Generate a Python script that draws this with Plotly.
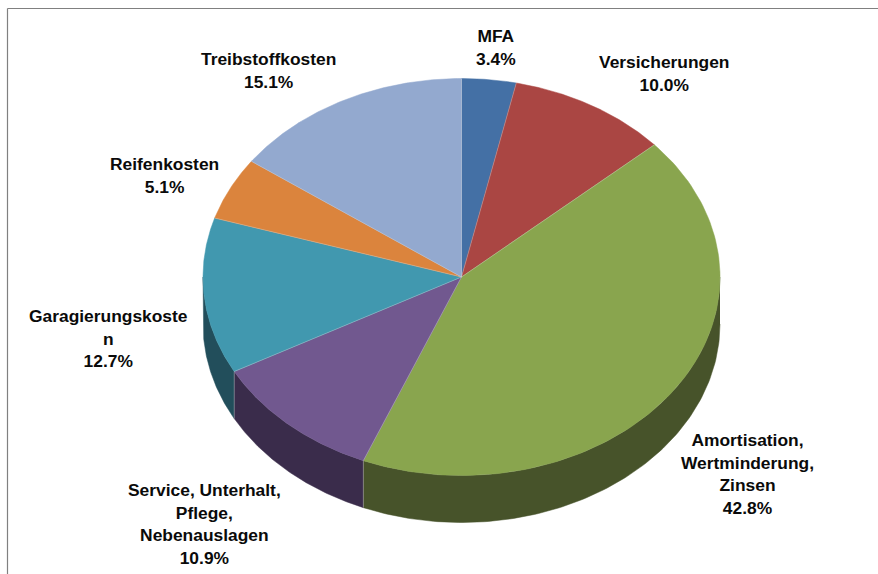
import numpy as np
import plotly.graph_objects as go

labels = ["MFA", "Versicherungen", "Amortisation,<br>Wertminderung,<br>Zinsen",
          "Service, Unterhalt,<br>Pflege,<br>Nebenauslagen", "Garagierungskoste<br>n",
          "Reifenkosten", "Treibstoffkosten"]
values = [3.4, 10.0, 42.8, 10.9, 12.7, 5.1, 15.1]
top_colors = ["#4470A5", "#AA4643", "#89A54E", "#71588F", "#4198AF", "#DB843D", "#93A9CF"]
side_colors = ["#223B57", "#5A2523", "#47532A", "#3A2C4B", "#224E5B", "#74451F", "#4C5A6E"]
label_centers = [(496, 47), (664, 73), (747, 474), (204, 524), (108, 338), (164, 175), (268, 70)]

CX, CY, RX, RY, DEPTH = 461.5, 277, 258.5, 198.5, 47
W, H = 878, 574

fracs = np.array(values) / sum(values)
edges = np.concatenate([[0], np.cumsum(fracs)]) * 2 * np.pi


def rim(a0, a1, n=120):
    t = np.linspace(a0, a1, n)
    return CX + RX * np.sin(t), CY - RY * np.cos(t), t


fig = go.Figure()

# Side wall (only the front half of the rim is visible)
for i, col in enumerate(side_colors):
    a0, a1 = max(edges[i], np.pi / 2), min(edges[i + 1], 3 * np.pi / 2)
    if a1 <= a0:
        continue
    x, y, _ = rim(a0, a1)
    fig.add_trace(go.Scatter(
        x=np.concatenate([x, x[::-1]]), y=np.concatenate([y, y[::-1] + DEPTH]),
        mode="lines", fill="toself", fillcolor=col, line=dict(color=col, width=0.5),
        hoverinfo="skip", showlegend=False))

# Top face
for i, col in enumerate(top_colors):
    x, y, _ = rim(edges[i], edges[i + 1])
    fig.add_trace(go.Scatter(
        x=np.concatenate([[CX], x, [CX]]), y=np.concatenate([[CY], y, [CY]]),
        mode="lines", fill="toself", fillcolor=col, line=dict(color=col, width=0.5),
        name=labels[i].replace("<br>", " "), text=f"{values[i]}%", hoverinfo="name+text",
        showlegend=False))

# Thin light separators between slices
sx, sy = [], []
for a in edges[:-1]:
    px, py = CX + RX * np.sin(a), CY - RY * np.cos(a)
    sx += [CX, px, None]
    sy += [CY, py, None]
    if np.pi / 2 < a < 3 * np.pi / 2:
        sx += [px, px, None]
        sy += [py, py + DEPTH, None]
fig.add_trace(go.Scatter(x=sx, y=sy, mode="lines",
                         line=dict(color="rgba(225,225,225,0.45)", width=0.7),
                         hoverinfo="skip", showlegend=False))

for lab, val, (lx, ly) in zip(labels, values, label_centers):
    fig.add_annotation(x=lx, y=ly, xref="x", yref="y", text=f"<b>{lab}<br>{val:.1f}%</b>",
                       showarrow=False, align="center", xanchor="center", yanchor="middle",
                       font=dict(family="Liberation Sans, Arial, sans-serif", size=17.4, color="#0a0a0a"))

# Chart frame: only top and left edges fall inside the crop
fig.add_shape(type="line", x0=7.5, x1=W, y0=8.5, y1=8.5, xref="x", yref="y",
              line=dict(color="#808080", width=1.2))
fig.add_shape(type="line", x0=7.5, x1=7.5, y0=8.5, y1=H, xref="x", yref="y",
              line=dict(color="#808080", width=1.2))

fig.update_layout(
    width=W, height=H, margin=dict(l=0, r=0, t=0, b=0),
    paper_bgcolor="white", plot_bgcolor="white",
    xaxis=dict(range=[0, W], visible=False, fixedrange=True),
    yaxis=dict(range=[H, 0], visible=False, fixedrange=True),
)
fig.write_html("out.html", config=dict(displayModeBar=False),
               post_script="document.body.style.margin='0';document.body.style.overflow='hidden';")
